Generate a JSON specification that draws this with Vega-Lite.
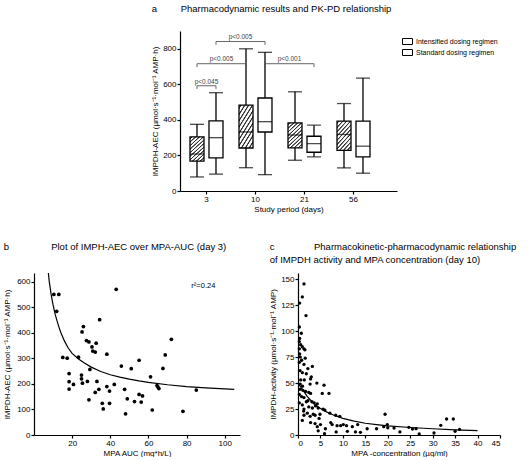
{
  "$schema": "https://vega.github.io/schema/vega-lite/v6.json",
  "padding": {"left": 3, "top": 3, "right": 0, "bottom": 0},
  "config": {
    "view": {"stroke": null},
    "font": "Liberation Sans",
    "axis": {"domainColor": "black", "tickColor": "black", "labelColor": "black", "titleColor": "black", "labelFontSize": 8, "titleFontSize": 8, "titleFontWeight": "normal", "tickSize": 3, "grid": false, "labelPadding": 1, "domainWidth": 1.2, "tickWidth": 1.2, "labelFont": "Liberation Sans", "titleFont": "Liberation Sans", "labelOverlap": false},
    "title": {"fontSize": 9.5, "fontWeight": "normal", "font": "Liberation Sans", "color": "black", "anchor": "start"}
  },
  "spacing": 28,
  "resolve": {"scale": {"stroke": "independent"}, "legend": {"stroke": "independent"}},
  "vconcat": [
    {
      "spacing": 0,
      "resolve": {"scale": {"stroke": "independent"}, "legend": {"stroke": "independent"}},
      "hconcat": [
        {"width": 117, "height": 160, "data": {"values": []}, "mark": "point"},
        {
          "width": 217,
          "height": 160,
          "title": {"text": "a\u00a0\u00a0\u00a0\u00a0\u00a0\u00a0\u00a0\u00a0\u00a0Pharmacodynamic results and PK-PD relationship", "frame": "bounds", "offset": 18},
          "layer": [
            {
              "data": {"name": "boxes", "values": [
                {"day": "3", "regimen": "Intensified dosing regimen", "min": 79, "q1": 168, "median": 208, "q3": 305, "max": 375},
                {"day": "3", "regimen": "Standard dosing regimen", "min": 95, "q1": 186, "median": 300, "q3": 395, "max": 553},
                {"day": "10", "regimen": "Intensified dosing regimen", "min": 131, "q1": 242, "median": 332, "q3": 483, "max": 800},
                {"day": "10", "regimen": "Standard dosing regimen", "min": 92, "q1": 332, "median": 390, "q3": 523, "max": 780},
                {"day": "21", "regimen": "Intensified dosing regimen", "min": 173, "q1": 243, "median": 315, "q3": 383, "max": 558},
                {"day": "21", "regimen": "Standard dosing regimen", "min": 192, "q1": 218, "median": 267, "q3": 308, "max": 370},
                {"day": "56", "regimen": "Intensified dosing regimen", "min": 130, "q1": 228, "median": 318, "q3": 393, "max": 492},
                {"day": "56", "regimen": "Standard dosing regimen", "min": 100, "q1": 192, "median": 252, "q3": 393, "max": 635}
              ]},
              "layer": [
                {
                  "mark": {"type": "rule", "color": "black", "strokeWidth": 1.3},
                  "encoding": {
                    "x": {"field": "day", "type": "ordinal", "sort": ["3", "10", "21", "56"], "scale": {"domain": ["3", "10", "21", "56"], "paddingInner": 0, "paddingOuter": 0.2143, "align": 0.095}, "axis": {"title": "Study period (days)", "labelAngle": 0, "titlePadding": 2, "labelOverlap": false}},
                    "xOffset": {"field": "regimen", "type": "nominal", "scale": {"domain": ["Intensified dosing regimen", "Standard dosing regimen"], "paddingInner": 0, "paddingOuter": 0.29}},
                    "y": {"field": "min", "type": "quantitative", "scale": {"domain": [0, 900], "nice": false}, "axis": {"values": [0, 200, 400, 600, 800], "tickCount": 20, "title": "IMPDH-AEC (µmol·s⁻¹·mol⁻¹ AMP·h)", "titlePadding": 3, "labelOverlap": false}},
                    "y2": {"field": "max"}
                  }
                },
                {
                  "mark": {"type": "bar", "width": 14, "strokeWidth": 1.3},
                  "encoding": {
                    "x": {"field": "day", "type": "ordinal"},
                    "xOffset": {"field": "regimen", "type": "nominal"},
                    "y": {"field": "q1", "type": "quantitative"},
                    "y2": {"field": "q3"},
                    "fill": {"condition": {"test": "datum.regimen === 'Intensified dosing regimen'", "value": {"gradient": "linear", "x1": 0, "y1": 0, "x2": 1, "y2": 1.9, "stops": [
                        {"offset": 0, "color": "#ffffff"},
                        {"offset": 0.014, "color": "#ffffff"}, {"offset": 0.024, "color": "#333333"}, {"offset": 0.036, "color": "#333333"}, {"offset": 0.046, "color": "#ffffff"},
                        {"offset": 0.074, "color": "#ffffff"}, {"offset": 0.084, "color": "#333333"}, {"offset": 0.096, "color": "#333333"}, {"offset": 0.106, "color": "#ffffff"},
                        {"offset": 0.134, "color": "#ffffff"}, {"offset": 0.144, "color": "#333333"}, {"offset": 0.156, "color": "#333333"}, {"offset": 0.166, "color": "#ffffff"},
                        {"offset": 0.194, "color": "#ffffff"}, {"offset": 0.204, "color": "#333333"}, {"offset": 0.216, "color": "#333333"}, {"offset": 0.226, "color": "#ffffff"},
                        {"offset": 0.254, "color": "#ffffff"}, {"offset": 0.264, "color": "#333333"}, {"offset": 0.276, "color": "#333333"}, {"offset": 0.286, "color": "#ffffff"},
                        {"offset": 0.314, "color": "#ffffff"}, {"offset": 0.324, "color": "#333333"}, {"offset": 0.336, "color": "#333333"}, {"offset": 0.346, "color": "#ffffff"},
                        {"offset": 0.374, "color": "#ffffff"}, {"offset": 0.384, "color": "#333333"}, {"offset": 0.396, "color": "#333333"}, {"offset": 0.406, "color": "#ffffff"},
                        {"offset": 0.434, "color": "#ffffff"}, {"offset": 0.444, "color": "#333333"}, {"offset": 0.456, "color": "#333333"}, {"offset": 0.466, "color": "#ffffff"},
                        {"offset": 0.494, "color": "#ffffff"}, {"offset": 0.504, "color": "#333333"}, {"offset": 0.516, "color": "#333333"}, {"offset": 0.526, "color": "#ffffff"},
                        {"offset": 0.554, "color": "#ffffff"}, {"offset": 0.564, "color": "#333333"}, {"offset": 0.576, "color": "#333333"}, {"offset": 0.586, "color": "#ffffff"},
                        {"offset": 0.614, "color": "#ffffff"}, {"offset": 0.624, "color": "#333333"}, {"offset": 0.636, "color": "#333333"}, {"offset": 0.646, "color": "#ffffff"},
                        {"offset": 1, "color": "#ffffff"}
                      ]}}, "value": "#ffffff"},
                    "stroke": {"field": "regimen", "type": "nominal", "scale": {"domain": ["Intensified dosing regimen", "Standard dosing regimen"], "range": ["#000000", "#000000"]}, "legend": {"title": null, "orient": "right", "offset": 0, "padding": 5, "symbolType": "M-1,-0.6H1V0.6H-1Z", "symbolSize": 100, "symbolStrokeWidth": 1, "labelFontSize": 7, "labelColor": "black", "rowPadding": 0, "labelOffset": 3,
                      "encode": {"symbols": {
                        "enter": {"fill": [{"test": "datum.value === 'Intensified dosing regimen'", "value": {"gradient": "linear", "x1": 0, "y1": 0, "x2": 1, "y2": 1, "stops": [
                          {"offset": 0, "color": "#ffffff"},
                          {"offset": 0.05, "color": "#ffffff"}, {"offset": 0.09, "color": "#333333"}, {"offset": 0.13, "color": "#ffffff"},
                          {"offset": 0.21, "color": "#ffffff"}, {"offset": 0.25, "color": "#333333"}, {"offset": 0.29, "color": "#ffffff"},
                          {"offset": 0.37, "color": "#ffffff"}, {"offset": 0.41, "color": "#333333"}, {"offset": 0.45, "color": "#ffffff"},
                          {"offset": 0.53, "color": "#ffffff"}, {"offset": 0.57, "color": "#333333"}, {"offset": 0.61, "color": "#ffffff"},
                          {"offset": 0.69, "color": "#ffffff"}, {"offset": 0.73, "color": "#333333"}, {"offset": 0.77, "color": "#ffffff"},
                          {"offset": 0.85, "color": "#ffffff"}, {"offset": 0.89, "color": "#333333"}, {"offset": 0.93, "color": "#ffffff"},
                          {"offset": 1, "color": "#ffffff"}
                        ]}}, {"value": "#ffffff"}], "stroke": {"value": "#000000"}},
                        "update": {"fill": [{"test": "datum.value === 'Intensified dosing regimen'", "value": {"gradient": "linear", "x1": 0, "y1": 0, "x2": 1, "y2": 1, "stops": [
                          {"offset": 0, "color": "#ffffff"},
                          {"offset": 0.05, "color": "#ffffff"}, {"offset": 0.09, "color": "#333333"}, {"offset": 0.13, "color": "#ffffff"},
                          {"offset": 0.21, "color": "#ffffff"}, {"offset": 0.25, "color": "#333333"}, {"offset": 0.29, "color": "#ffffff"},
                          {"offset": 0.37, "color": "#ffffff"}, {"offset": 0.41, "color": "#333333"}, {"offset": 0.45, "color": "#ffffff"},
                          {"offset": 0.53, "color": "#ffffff"}, {"offset": 0.57, "color": "#333333"}, {"offset": 0.61, "color": "#ffffff"},
                          {"offset": 0.69, "color": "#ffffff"}, {"offset": 0.73, "color": "#333333"}, {"offset": 0.77, "color": "#ffffff"},
                          {"offset": 0.85, "color": "#ffffff"}, {"offset": 0.89, "color": "#333333"}, {"offset": 0.93, "color": "#ffffff"},
                          {"offset": 1, "color": "#ffffff"}
                        ]}}, {"value": "#ffffff"}], "stroke": {"value": "#000000"}, "opacity": {"value": 1}, "fillOpacity": {"value": 1}}
                      }}}}
                  }
                },
                {
                  "mark": {"type": "tick", "color": "black", "size": 14, "thickness": 1.3},
                  "encoding": {"x": {"field": "day", "type": "ordinal"}, "xOffset": {"field": "regimen", "type": "nominal"}, "y": {"field": "median", "type": "quantitative"}}
                },
                {
                  "mark": {"type": "tick", "color": "black", "size": 14, "thickness": 1.3},
                  "encoding": {"x": {"field": "day", "type": "ordinal"}, "xOffset": {"field": "regimen", "type": "nominal"}, "y": {"field": "min", "type": "quantitative"}}
                },
                {
                  "mark": {"type": "tick", "color": "black", "size": 14, "thickness": 1.3},
                  "encoding": {"x": {"field": "day", "type": "ordinal"}, "xOffset": {"field": "regimen", "type": "nominal"}, "y": {"field": "max", "type": "quantitative"}}
                }
              ]
            },
            {
              "data": {"values": [
                {"b": "b1", "seq": 1, "day": "3", "regimen": "Intensified dosing regimen", "y": 574},
                {"b": "b1", "seq": 2, "day": "3", "regimen": "Intensified dosing regimen", "y": 592},
                {"b": "b1", "seq": 3, "day": "3", "regimen": "Standard dosing regimen", "y": 592},
                {"b": "b1", "seq": 4, "day": "3", "regimen": "Standard dosing regimen", "y": 574},
                {"b": "b2", "seq": 1, "day": "3", "regimen": "Intensified dosing regimen", "y": 697},
                {"b": "b2", "seq": 2, "day": "3", "regimen": "Intensified dosing regimen", "y": 716},
                {"b": "b2", "seq": 3, "day": "10", "regimen": "Intensified dosing regimen", "y": 716},
                {"b": "b2", "seq": 4, "day": "10", "regimen": "Intensified dosing regimen", "y": 697},
                {"b": "b3", "seq": 1, "day": "3", "regimen": "Standard dosing regimen", "y": 822},
                {"b": "b3", "seq": 2, "day": "3", "regimen": "Standard dosing regimen", "y": 841},
                {"b": "b3", "seq": 3, "day": "10", "regimen": "Standard dosing regimen", "y": 841},
                {"b": "b3", "seq": 4, "day": "10", "regimen": "Standard dosing regimen", "y": 822},
                {"b": "b4", "seq": 1, "day": "10", "regimen": "Standard dosing regimen", "y": 697},
                {"b": "b4", "seq": 2, "day": "10", "regimen": "Standard dosing regimen", "y": 716},
                {"b": "b4", "seq": 3, "day": "21", "regimen": "Standard dosing regimen", "y": 716},
                {"b": "b4", "seq": 4, "day": "21", "regimen": "Standard dosing regimen", "y": 697}
              ]},
              "mark": {"type": "line", "color": "#555555", "strokeWidth": 0.9},
              "encoding": {
                "x": {"field": "day", "type": "ordinal"},
                "xOffset": {"field": "regimen", "type": "nominal"},
                "y": {"field": "y", "type": "quantitative"},
                "detail": {"field": "b"},
                "order": {"field": "seq", "type": "quantitative"}
              }
            },
            {
              "data": {"values": [
                {"label": "p<0.045", "day": "3", "regimen": "Intensified dosing regimen", "y": 614}
              ]},
              "mark": {"type": "text", "fontSize": 6.5, "color": "#444444", "dx": 9.5, "baseline": "middle"},
              "encoding": {
                "x": {"field": "day", "type": "ordinal"},
                "xOffset": {"field": "regimen", "type": "nominal"},
                "y": {"field": "y", "type": "quantitative"},
                "text": {"field": "label"}
              }
            },
            {
              "data": {"values": [
                {"label": "p<0.005", "day": "3", "regimen": "Intensified dosing regimen", "y": 745},
                {"label": "p<0.005", "day": "3", "regimen": "Standard dosing regimen", "y": 868},
                {"label": "p<0.001", "day": "10", "regimen": "Standard dosing regimen", "y": 745}
              ]},
              "mark": {"type": "text", "fontSize": 6.5, "color": "#444444", "dx": 24.5, "baseline": "middle"},
              "encoding": {
                "x": {"field": "day", "type": "ordinal"},
                "xOffset": {"field": "regimen", "type": "nominal"},
                "y": {"field": "y", "type": "quantitative"},
                "text": {"field": "label"}
              }
            }
          ]
        }
      ]
    },
    {
      "spacing": 29,
      "hconcat": [
        {
          "width": 206,
          "height": 162,
          "title": {"text": "b\u00a0\u00a0\u00a0\u00a0\u00a0\u00a0\u00a0\u00a0\u00a0\u00a0\u00a0\u00a0\u00a0\u00a0\u00a0\u00a0Plot of IMPH-AEC over MPA-AUC (day 3)", "frame": "bounds", "offset": 22},
          "layer": [
            {
              "data": {"values": [
                {"auc": 10.4, "aec": 551}, {"auc": 13.0, "aec": 551}, {"auc": 11.9, "aec": 485}, {"auc": 15.1, "aec": 304},
                {"auc": 17.4, "aec": 301}, {"auc": 18.4, "aec": 241}, {"auc": 18.4, "aec": 209}, {"auc": 18.4, "aec": 180},
                {"auc": 20.7, "aec": 198}, {"auc": 23.3, "aec": 305}, {"auc": 24.9, "aec": 235}, {"auc": 24.9, "aec": 220},
                {"auc": 25.4, "aec": 203}, {"auc": 25.2, "aec": 404}, {"auc": 25.9, "aec": 425}, {"auc": 27.5, "aec": 370},
                {"auc": 28.8, "aec": 365}, {"auc": 28.0, "aec": 210}, {"auc": 28.8, "aec": 138}, {"auc": 29.3, "aec": 257},
                {"auc": 30.4, "aec": 345}, {"auc": 30.8, "aec": 329}, {"auc": 32.1, "aec": 325}, {"auc": 32.6, "aec": 360},
                {"auc": 33.0, "aec": 210}, {"auc": 32.1, "aec": 167}, {"auc": 34.0, "aec": 179}, {"auc": 34.4, "aec": 452},
                {"auc": 35.8, "aec": 124}, {"auc": 36.3, "aec": 102}, {"auc": 38.2, "aec": 317}, {"auc": 38.2, "aec": 190},
                {"auc": 39.6, "aec": 172}, {"auc": 39.6, "aec": 124}, {"auc": 42.1, "aec": 198}, {"auc": 43.1, "aec": 571},
                {"auc": 45.8, "aec": 270}, {"auc": 47.5, "aec": 179}, {"auc": 48.0, "aec": 83}, {"auc": 48.9, "aec": 142},
                {"auc": 51.0, "aec": 260}, {"auc": 52.7, "aec": 131}, {"auc": 55.1, "aec": 293}, {"auc": 55.1, "aec": 159},
                {"auc": 56.2, "aec": 129}, {"auc": 56.9, "aec": 153}, {"auc": 61.1, "aec": 228}, {"auc": 62.0, "aec": 98},
                {"auc": 64.5, "aec": 194}, {"auc": 65.0, "aec": 188}, {"auc": 65.5, "aec": 182}, {"auc": 67.6, "aec": 261},
                {"auc": 68.8, "aec": 314}, {"auc": 72.0, "aec": 375}, {"auc": 78.1, "aec": 93}, {"auc": 85.1, "aec": 176}
              ]},
              "mark": {"type": "circle", "color": "black", "opacity": 1, "size": 14},
              "encoding": {
                "x": {"field": "auc", "type": "quantitative", "scale": {"domain": [0, 108], "nice": false}, "axis": {"values": [20, 40, 60, 80, 100], "tickCount": 20, "title": "MPA AUC (mg*h/L)", "titlePadding": 2, "labelOverlap": false}},
                "y": {"field": "aec", "type": "quantitative", "scale": {"domain": [0, 635], "nice": false}, "axis": {"values": [0, 100, 200, 300, 400, 500, 600], "tickCount": 20, "title": "IMPDH-AEC (µmol·s⁻¹·mol⁻¹ AMP·h)", "titlePadding": 5, "labelOverlap": false}}
              }
            },
            {
              "data": {"values": [
                {"auc": 7.4, "aec": 645}, {"auc": 8, "aec": 601}, {"auc": 9, "aec": 550}, {"auc": 10, "aec": 510},
                {"auc": 11, "aec": 476}, {"auc": 12, "aec": 449}, {"auc": 13, "aec": 425}, {"auc": 14, "aec": 403},
                {"auc": 16, "aec": 368}, {"auc": 18, "aec": 340}, {"auc": 20, "aec": 320}, {"auc": 23, "aec": 300},
                {"auc": 26, "aec": 284}, {"auc": 30, "aec": 266}, {"auc": 35, "aec": 249}, {"auc": 40, "aec": 236},
                {"auc": 45, "aec": 227}, {"auc": 50, "aec": 219}, {"auc": 55, "aec": 212}, {"auc": 60, "aec": 206},
                {"auc": 70, "aec": 197}, {"auc": 80, "aec": 190}, {"auc": 90, "aec": 185}, {"auc": 100, "aec": 181},
                {"auc": 105, "aec": 179}
              ]},
              "mark": {"type": "line", "color": "black", "strokeWidth": 1.2, "clip": true},
              "encoding": {
                "x": {"field": "auc", "type": "quantitative"},
                "y": {"field": "aec", "type": "quantitative"}
              }
            },
            {
              "data": {"values": [{"auc": 82.5, "aec": 585, "label": "r²=0.24"}]},
              "mark": {"type": "text", "align": "left", "baseline": "middle", "fontSize": 7.5, "color": "black"},
              "encoding": {
                "x": {"field": "auc", "type": "quantitative"},
                "y": {"field": "aec", "type": "quantitative"},
                "text": {"field": "label"}
              }
            }
          ]
        },
        {
          "width": 202,
          "height": 162,
          "title": {"text": ["c\u00a0\u00a0\u00a0\u00a0\u00a0\u00a0\u00a0\u00a0\u00a0\u00a0\u00a0\u00a0\u00a0\u00a0\u00a0Pharmacokinetic-pharmacodynamic relationship", "\u00a0\u00a0\u00a0\u00a0\u00a0\u00a0\u00a0\u00a0\u00a0\u00a0\u00a0\u00a0\u00a0\u00a0\u00a0\u00a0\u00a0of IMPDH activity and MPA concentration (day 10)"], "frame": "bounds", "offset": 9, "lineHeight": 13},
          "layer": [
            {
              "data": {"values": [
                {"c": 1.33, "a": 145.5}, {"c": 0.96, "a": 133}, {"c": 0.37, "a": 127}, {"c": 1.78, "a": 115}, {"c": 0.3, "a": 104},
                {"c": 0.74, "a": 98}, {"c": 0.37, "a": 93}, {"c": 0.3, "a": 90}, {"c": 0.6, "a": 87}, {"c": 0.96, "a": 85},
                {"c": 0.3, "a": 83}, {"c": 1.33, "a": 83}, {"c": 1.55, "a": 82}, {"c": 0.37, "a": 78}, {"c": 0.5, "a": 75},
                {"c": 1.6, "a": 74}, {"c": 0.8, "a": 72}, {"c": 0.3, "a": 70}, {"c": 1.33, "a": 68}, {"c": 3.2, "a": 66},
                {"c": 2.2, "a": 64}, {"c": 0.44, "a": 62}, {"c": 0.96, "a": 60}, {"c": 1.85, "a": 59}, {"c": 2.96, "a": 56},
                {"c": 2.8, "a": 54}, {"c": 0.6, "a": 53}, {"c": 1.4, "a": 53}, {"c": 5.8, "a": 48}, {"c": 4.2, "a": 50},
                {"c": 2.7, "a": 49}, {"c": 0.5, "a": 49}, {"c": 1.0, "a": 47}, {"c": 0.44, "a": 44}, {"c": 1.1, "a": 43},
                {"c": 1.7, "a": 42}, {"c": 2.4, "a": 41}, {"c": 5.4, "a": 40}, {"c": 6.9, "a": 40}, {"c": 2.8, "a": 40},
                {"c": 0.3, "a": 39}, {"c": 0.8, "a": 37}, {"c": 1.33, "a": 36}, {"c": 2.2, "a": 33}, {"c": 1.85, "a": 32},
                {"c": 0.3, "a": 31}, {"c": 0.96, "a": 29}, {"c": 3.1, "a": 32}, {"c": 3.6, "a": 31}, {"c": 3.9, "a": 28},
                {"c": 4.3, "a": 30}, {"c": 2.4, "a": 27}, {"c": 3.2, "a": 26}, {"c": 4.5, "a": 26}, {"c": 5.6, "a": 25},
                {"c": 6.0, "a": 24}, {"c": 1.33, "a": 25}, {"c": 1.26, "a": 23}, {"c": 2.07, "a": 21}, {"c": 3.4, "a": 20},
                {"c": 4.9, "a": 20}, {"c": 7.1, "a": 21}, {"c": 1.33, "a": 19}, {"c": 2.7, "a": 18}, {"c": 3.8, "a": 19},
                {"c": 4.7, "a": 16}, {"c": 8.4, "a": 19}, {"c": 9.3, "a": 18}, {"c": 0.96, "a": 14}, {"c": 2.8, "a": 12},
                {"c": 3.8, "a": 11}, {"c": 5.0, "a": 10}, {"c": 7.3, "a": 12}, {"c": 7.6, "a": 10}, {"c": 8.7, "a": 9},
                {"c": 9.5, "a": 9}, {"c": 10.1, "a": 10}, {"c": 10.8, "a": 9}, {"c": 12.1, "a": 8}, {"c": 13.3, "a": 10},
                {"c": 4.3, "a": 8}, {"c": 6.1, "a": 6}, {"c": 4.5, "a": 4}, {"c": 8.5, "a": 3}, {"c": 11.0, "a": 3.5},
                {"c": 5.9, "a": 1.3}, {"c": 12.8, "a": 3}, {"c": 13.9, "a": 2.6}, {"c": 15.4, "a": 6}, {"c": 17.5, "a": 6},
                {"c": 19.1, "a": 8}, {"c": 19.4, "a": 20}, {"c": 19.9, "a": 10}, {"c": 20.0, "a": 7}, {"c": 22.7, "a": 3},
                {"c": 21.4, "a": 6.7}, {"c": 24.7, "a": 7.4}, {"c": 25.5, "a": 5.8}, {"c": 26.3, "a": 6.1}, {"c": 27.0, "a": 1.0},
                {"c": 30.3, "a": 1.9}, {"c": 31.8, "a": 9.3}, {"c": 33.1, "a": 15.4}, {"c": 34.6, "a": 15.4}, {"c": 35.0, "a": 3.5},
                {"c": 36.0, "a": 5.4}
              ]},
              "mark": {"type": "circle", "color": "black", "opacity": 1, "size": 11},
              "encoding": {
                "x": {"field": "c", "type": "quantitative", "scale": {"domain": [0, 45], "nice": false}, "axis": {"values": [0, 5, 10, 15, 20, 25, 30, 35, 40, 45], "tickCount": 20, "title": "MPA -concentration (µg/ml)", "titlePadding": 2, "labelOverlap": false}},
                "y": {"field": "a", "type": "quantitative", "scale": {"domain": [0, 156], "nice": false}, "axis": {"values": [0, 25, 50, 75, 100, 125, 150], "tickCount": 20, "title": "IMPDH-activity (µmol·s⁻¹·mol⁻¹ AMP)", "titlePadding": 3, "labelOverlap": false}}
              }
            },
            {
              "data": {"values": [
                {"c": 0.3, "a": 48}, {"c": 1, "a": 44}, {"c": 2, "a": 37.5}, {"c": 3, "a": 32.5}, {"c": 4, "a": 28.5},
                {"c": 5, "a": 25.5}, {"c": 6, "a": 23}, {"c": 7, "a": 21}, {"c": 8, "a": 19}, {"c": 10, "a": 16},
                {"c": 12.5, "a": 13.3}, {"c": 15, "a": 11.3}, {"c": 17.5, "a": 10}, {"c": 20, "a": 8.8}, {"c": 25, "a": 7.2},
                {"c": 30, "a": 6}, {"c": 35, "a": 5}, {"c": 40, "a": 4.3}
              ]},
              "mark": {"type": "line", "color": "black", "strokeWidth": 1.2},
              "encoding": {
                "x": {"field": "c", "type": "quantitative"},
                "y": {"field": "a", "type": "quantitative"}
              }
            }
          ]
        }
      ]
    }
  ]
}
